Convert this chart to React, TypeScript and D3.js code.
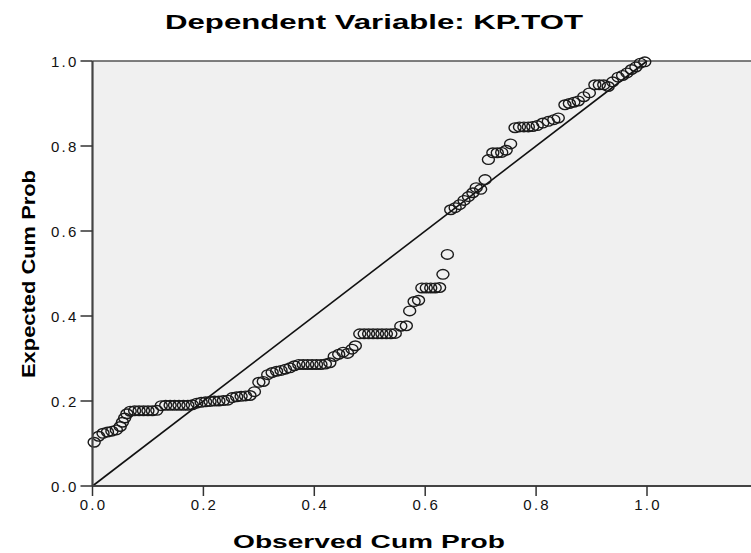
import React from "react";
import * as d3 from "d3";

const observed = [
  0.003, 0.011, 0.019, 0.027, 0.035, 0.043, 0.050, 0.054, 0.058, 0.062,
  0.068, 0.076, 0.084, 0.092, 0.100, 0.108, 0.116, 0.124, 0.132, 0.140,
  0.148, 0.156, 0.164, 0.172, 0.180, 0.188, 0.196, 0.204, 0.212, 0.220,
  0.228, 0.236, 0.244, 0.252, 0.260, 0.268, 0.276, 0.284, 0.292, 0.300,
  0.308, 0.316, 0.324, 0.332, 0.340, 0.348, 0.356, 0.364, 0.372, 0.380,
  0.388, 0.396, 0.404, 0.412, 0.420, 0.428, 0.436, 0.444, 0.452, 0.460,
  0.468, 0.474, 0.482, 0.490, 0.498, 0.506, 0.514, 0.522, 0.530, 0.538,
  0.546, 0.556, 0.566, 0.572, 0.580, 0.588, 0.594, 0.602, 0.610, 0.618,
  0.626, 0.632, 0.640, 0.646, 0.654, 0.662, 0.670, 0.678, 0.686, 0.692,
  0.700, 0.708, 0.714, 0.722, 0.730, 0.738, 0.746, 0.754, 0.762, 0.770,
  0.778, 0.786, 0.794, 0.802, 0.812, 0.822, 0.832, 0.840, 0.852, 0.860,
  0.868, 0.876, 0.886, 0.896, 0.906, 0.914, 0.922, 0.930, 0.938, 0.948,
  0.956, 0.964, 0.972, 0.980, 0.988, 0.996,
];

const expected = [
  0.103, 0.117, 0.124, 0.127, 0.129, 0.132, 0.140, 0.150, 0.160, 0.170,
  0.176, 0.177, 0.177, 0.177, 0.177, 0.177, 0.178, 0.189, 0.190, 0.190,
  0.190, 0.190, 0.190, 0.190, 0.191, 0.195, 0.197, 0.198, 0.199, 0.200,
  0.200, 0.201, 0.202, 0.208, 0.210, 0.211, 0.212, 0.213, 0.222, 0.244,
  0.246, 0.262, 0.267, 0.270, 0.272, 0.275, 0.278, 0.283, 0.286, 0.286,
  0.286, 0.286, 0.286, 0.286, 0.287, 0.290, 0.305, 0.310, 0.315, 0.312,
  0.322, 0.330, 0.358, 0.358, 0.358, 0.358, 0.358, 0.358, 0.358, 0.358,
  0.359, 0.376, 0.377, 0.412, 0.434, 0.437, 0.466, 0.466, 0.466, 0.466,
  0.467, 0.498, 0.545, 0.650, 0.655, 0.662, 0.672, 0.681, 0.690, 0.702,
  0.698, 0.721, 0.768, 0.784, 0.784, 0.785, 0.790, 0.805, 0.843, 0.845,
  0.845, 0.845, 0.846, 0.848, 0.854, 0.858, 0.862, 0.866, 0.897, 0.900,
  0.903, 0.906, 0.916, 0.925, 0.944, 0.944, 0.944, 0.940, 0.951, 0.962,
  0.966, 0.972, 0.980, 0.986, 0.995, 0.998,
];

const xTicks = [0, 0.2, 0.4, 0.6, 0.8, 1.0];
const yTicks = [0, 0.2, 0.4, 0.6, 0.8, 1.0];
const titleText = "Dependent Variable: KP.TOT";
const xTitle = "Observed Cum Prob";
const yTitle = "Expected Cum Prob";

const W = 751;
const H = 553;
const FONT = "'Liberation Sans', Arial, sans-serif";

export default function App() {
  const x = d3.scaleLinear().domain([0, 1.2]).range([92.5, 92.5 + 1.2 * 554.5]);
  const y = d3.scaleLinear().domain([0, 1]).range([486, 61]);
  const points = observed.map((o, i) => ({ o, e: expected[i] }));
  const diag = d3.line<[number, number]>()
    .x((d) => x(d[0]))
    .y((d) => y(d[1]))([[0, 0], [1, 1]]);

  return (
    <svg
      width={W}
      height={H}
      style={{ position: "absolute", left: 0, top: 0, background: "#fff" }}
      fontFamily={FONT}
    >
      <rect x={0} y={0} width={W} height={H} fill="#fff" />
      <text
        x={374}
        y={29}
        textAnchor="middle"
        fontSize={20}
        fontWeight="bold"
        textLength={418}
        lengthAdjust="spacingAndGlyphs"
        fill="#000"
      >
        {titleText}
      </text>
      <rect
        x={x(0)}
        y={y(1)}
        width={W - x(0)}
        height={y(0) - y(1)}
        fill="#f0f0f0"
      />
      <line x1={x(0)} x2={W} y1={y(1)} y2={y(1)} stroke="#555" strokeWidth={1.5} />
      <path d={diag || ""} stroke="#111" strokeWidth={1.6} fill="none" />
      {points.map((p, i) => (
        <ellipse
          key={i}
          cx={x(p.o)}
          cy={y(p.e)}
          rx={6}
          ry={4.8}
          fill="none"
          stroke="#1a1a1a"
          strokeWidth={1.4}
        />
      ))}
      <line x1={x(0)} x2={x(0)} y1={y(1)} y2={y(0)} stroke="#444" strokeWidth={2.2} />
      <line x1={x(0)} x2={W} y1={y(0)} y2={y(0)} stroke="#444" strokeWidth={2.2} />
      {yTicks.map((t) => (
        <g key={"y" + t}>
          <line x1={x(0) - 12} x2={x(0)} y1={y(t)} y2={y(t)} stroke="#333" strokeWidth={1.5} />
          <text
            x={x(0) - 14}
            y={y(t) + 5.5}
            textAnchor="end"
            fontSize={15}
            letterSpacing={2.2}
            fill="#111"
          >
            {d3.format(".1f")(t)}
          </text>
        </g>
      ))}
      {xTicks.map((t) => (
        <g key={"x" + t}>
          <line x1={x(t)} x2={x(t)} y1={y(0)} y2={y(0) + 10} stroke="#333" strokeWidth={1.5} />
          <text
            x={x(t) + 1}
            y={y(0) + 24}
            textAnchor="middle"
            fontSize={15}
            letterSpacing={2.2}
            fill="#111"
          >
            {d3.format(".1f")(t)}
          </text>
        </g>
      ))}
      <text
        x={369}
        y={548}
        textAnchor="middle"
        fontSize={19}
        fontWeight="bold"
        textLength={272}
        lengthAdjust="spacingAndGlyphs"
        fill="#000"
      >
        {xTitle}
      </text>
      <text
        transform={`translate(35, 274) rotate(-90)`}
        textAnchor="middle"
        fontSize={19}
        fontWeight="bold"
        textLength={208}
        lengthAdjust="spacingAndGlyphs"
        fill="#000"
      >
        {yTitle}
      </text>
    </svg>
  );
}
